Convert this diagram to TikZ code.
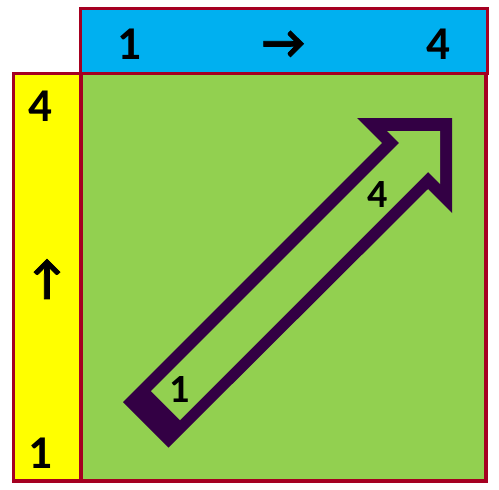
\documentclass[tikz,border=0pt]{standalone}
\usepackage{fontspec}
\setmainfont{Carlito}
\newfontfamily\arrowfont{Carlito}[BoldFeatures={FakeBold=1.6}]
\definecolor{barblue}{HTML}{00B0F0}
\definecolor{baryellow}{HTML}{FFFF00}
\definecolor{fieldgreen}{HTML}{92D050}
\definecolor{edgered}{HTML}{A50021}
\definecolor{arrowpurple}{HTML}{330044}
\begin{document}
\begin{tikzpicture}[x=1pt,y=-1pt,
  panel/.style={draw=edgered,line width=3.8pt},
  bigtxt/.style={inner sep=0pt,font=\fontsize{47}{50}\selectfont\bfseries},
  arrtxt/.style={inner sep=0pt,font=\fontsize{47}{50}\selectfont\arrowfont\bfseries},
  smalltxt/.style={inner sep=0pt,font=\fontsize{40}{44}\selectfont\bfseries}]
\useasboundingbox (0,0) rectangle (499,490);
% panels
\fill[fieldgreen] (81,73.5) rectangle (486,481);
\draw[panel] (81,73.5) rectangle (486,481);
\draw[panel,fill=baryellow] (13.5,73.5) rectangle (81,481);
\draw[panel,fill=barblue] (80.5,8.5) rectangle (487.5,73.5);
% labels on bars
\node[bigtxt] (t1) at (129,44) {1};
\node[arrtxt] (tarr) at (283.5,44.5) {→};
\node[bigtxt] (t4) at (438,44) {4};
\node[bigtxt] (l4) at (40,106) {4};
\node[arrtxt] (larr) at (47,279) {↑};
\node[bigtxt] (l1) at (40,453) {1};
% hollow arrow
\fill[arrowpurple] (123,402) -- (168.5,447.5) -- (428,189) -- (452,213) -- (452,118)
  -- (357,118) -- (382,143) -- cycle;
\fill[fieldgreen] (151,391) -- (180,420) -- (428,172) -- (440,184) -- (440,131)
  -- (387,131) -- (399,143) -- cycle;
\node[smalltxt] (a1) at (180,390) {1};
\node[smalltxt] (a4) at (378,195) {4};
\end{tikzpicture}
\end{document}
